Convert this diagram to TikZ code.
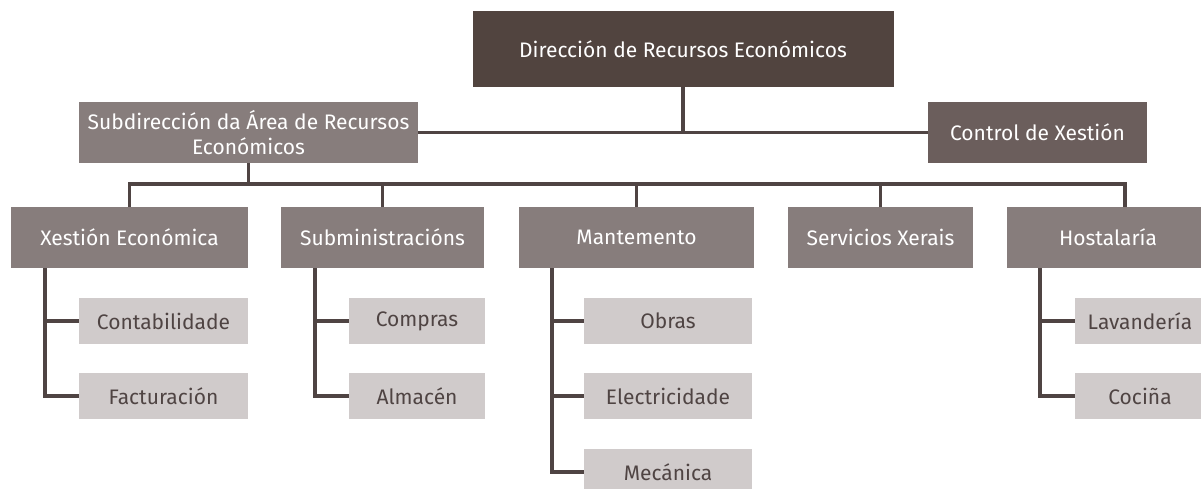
\documentclass[tikz,border=0pt]{standalone}
\usepackage{fontspec}
\setmainfont{Fira Sans}
\definecolor{cdark}{HTML}{51443F}
\definecolor{cmid}{HTML}{6B5E5C}
\definecolor{cbox}{HTML}{877D7C}
\definecolor{clight}{HTML}{D0CBCB}
\definecolor{cline}{HTML}{4F4443}
\begin{document}
\begin{tikzpicture}[x=1pt,y=-1pt,
  base/.style={rectangle, inner sep=0pt, outer sep=0pt, font=\fontsize{21}{25}\selectfont, align=center},
  topbox/.style={base, fill=cdark, text=white},
  ctrlbox/.style={base, fill=cmid, text=white},
  unitbox/.style={base, fill=cbox, text=white, minimum height=61pt},
  subbox/.style={base, fill=clight, text=cline, minimum height=46pt},
  link/.style={draw=cline, line width=3.2pt}
]
\clip (0,0) rectangle (1201,489);
\fill[white] (0,0) rectangle (1201,489);

\node[topbox, minimum width=421pt, minimum height=76pt] (top) at (683,49) {Dirección de Recursos Económicos};
\node[unitbox, minimum width=339pt] (sub) at (248.5,132.5) {Subdirección da Área de Recursos\\Económicos};
\node[ctrlbox, minimum width=219pt, minimum height=61pt] (ctrl) at (1037.5,132.5) {Control de Xestión};

\node[unitbox, minimum width=237pt] (xe) at (129.5,237.5) {Xestión Económica};
\node[unitbox, minimum width=203pt] (sum) at (382.5,237.5) {Subministracións};
\node[unitbox, minimum width=235pt] (man) at (636.5,237.5) {Mantemento};
\node[unitbox, minimum width=185pt] (ser) at (880.5,237.5) {Servicios Xerais};
\node[unitbox, minimum width=202pt] (hos) at (1108,237.5) {Hostalaría};

\node[subbox, minimum width=169pt] (cont) at (163.5,321) {Contabilidade};
\node[subbox, minimum width=169pt] (fact) at (163.5,396) {Facturación};
\node[subbox, minimum width=136pt] (comp) at (417,321) {Compras};
\node[subbox, minimum width=136pt] (alm) at (417,396) {Almacén};
\node[subbox, minimum width=168pt] (obr) at (668,321) {Obras};
\node[subbox, minimum width=168pt] (ele) at (668,396) {Electricidade};
\node[subbox, minimum width=168pt] (mec) at (668,472) {Mecánica};
\node[subbox, minimum width=130pt] (lav) at (1140,321) {Lavandería};
\node[subbox, minimum width=130pt] (coc) at (1140,396) {Cociña};

% top level connectors
\draw[link] (top.south) -- (top.south |- sub.east);
\draw[link] (sub.east) -- (ctrl.west);

% bus to units
\coordinate (bus) at (0,184);
\coordinate (hosd) at (1125,207);
\draw[link] (sub.south) -- (sub.south |- bus);
\draw[link] (xe.north) -- (xe.north |- bus) -- (hosd |- bus) -- (hosd);
\draw[link] (sum.north) -- (sum.north |- bus);
\draw[link] (man.north) -- (man.north |- bus);
\draw[link] (ser.north) -- (ser.north |- bus);

% sub trees
\draw[link] ([xshift=-34pt]cont.west |- xe.south) |- (fact.west);
\draw[link] ([xshift=-34pt]cont.west) -- (cont.west);
\draw[link] ([xshift=-34pt]comp.west |- sum.south) |- (alm.west);
\draw[link] ([xshift=-34pt]comp.west) -- (comp.west);
\draw[link] ([xshift=-32pt]obr.west |- man.south) |- (mec.west);
\draw[link] ([xshift=-32pt]obr.west) -- (obr.west);
\draw[link] ([xshift=-32pt]ele.west) -- (ele.west);
\draw[link] ([xshift=-35pt]lav.west |- hos.south) |- (coc.west);
\draw[link] ([xshift=-35pt]lav.west) -- (lav.west);
\end{tikzpicture}
\end{document}
